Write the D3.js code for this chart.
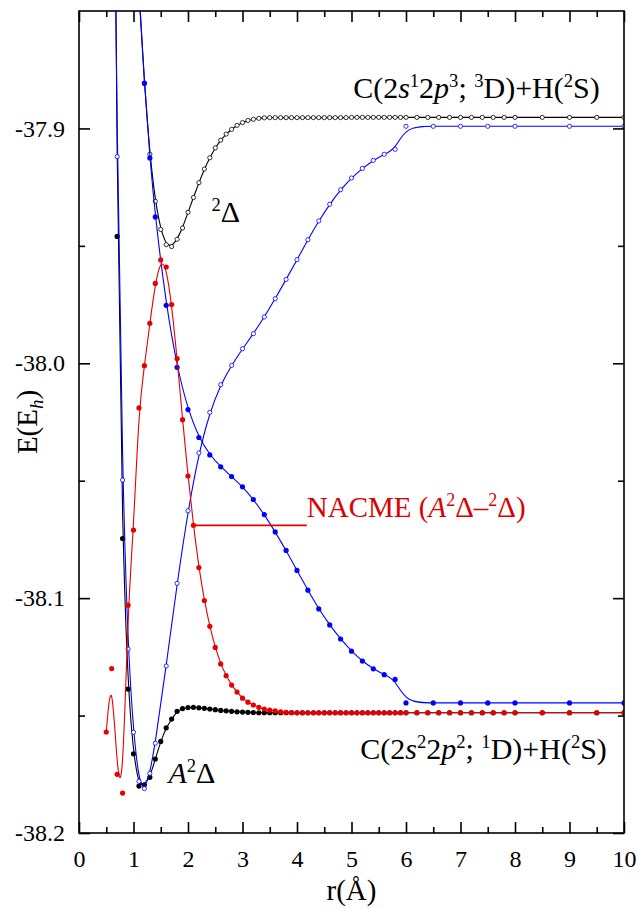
<!DOCTYPE html>
<html>
<head>
<meta charset="utf-8">
<script src="https://cdn.jsdelivr.net/npm/d3@7"></script>
<style>
  html, body { margin: 0; padding: 0; background: #fff; }
  svg { display: block; font-family: "Liberation Serif", "Times New Roman", serif; }
  text { white-space: pre; }
</style>
</head>
<body>
<div id="chart"></div>
<script>
// ---- data (r in Angstrom, E in hartree) ----
const xTicks = [0, 1, 2, 3, 4, 5, 6, 7, 8, 9, 10];
const xTickLabels = ["0", "1", "2", "3", "4", "5", "6", "7", "8", "9", "10"];
const xMinor = [0.5, 1.5, 2.5, 3.5, 4.5, 5.5, 6.5, 7.5, 8.5, 9.5];
const yTicks = [-38.2, -38.1, -38.0, -37.9];
const yTickLabels = ["-38.2", "-38.1", "-38.0", "-37.9"];
const yMinor = [-38.15, -38.05, -37.95];

// A2Delta (black, filled)
const blackFilledR = [0.6, 0.7, 0.8, 0.9, 1.0, 1.1, 1.2, 1.3, 1.4, 1.5,
  1.6, 1.7, 1.8, 1.9, 2.0, 2.1, 2.2, 2.3, 2.4, 2.5,
  2.6, 2.7, 2.8, 2.9, 3.0, 3.1, 3.2, 3.3, 3.4, 3.5,
  3.6, 3.7, 3.8, 3.9, 4.0, 4.1, 4.2, 4.3, 4.4, 4.5,
  4.6, 4.7, 4.8, 4.9, 5.0, 5.1, 5.2, 5.3, 5.4, 5.5,
  5.6, 5.7, 5.8, 5.9, 6.0, 6.2, 6.4, 6.6, 6.8, 7.0,
  7.2, 7.4, 7.6, 7.8, 8.0, 8.5, 9.0, 9.5, 10.0];
const blackFilledE = [-37.600, -37.946, -38.0746, -38.1387, -38.1663, -38.1800, -38.1795, -38.1763, -38.1685, -38.1610,
  -38.1552, -38.1515, -38.1482, -38.1470, -38.1466, -38.1465, -38.1467, -38.1469, -38.1472, -38.1475,
  -38.1478, -38.1480, -38.1482, -38.1484, -38.1485, -38.1486, -38.1487, -38.1488, -38.1488, -38.1488,
  -38.1488, -38.1488, -38.1488, -38.1488, -38.1488, -38.1488, -38.1488, -38.1488, -38.1488, -38.1488,
  -38.1488, -38.1488, -38.1488, -38.1488, -38.1488, -38.1488, -38.1488, -38.1488, -38.1488, -38.1488,
  -38.1488, -38.1488, -38.1488, -38.1488, -38.1488, -38.1488, -38.1488, -38.1488, -38.1488, -38.1488,
  -38.1488, -38.1488, -38.1488, -38.1488, -38.1488, -38.1488, -38.1488, -38.1488, -38.1488];

// 2Delta (black, open)
const blackOpenR = [1.1, 1.2, 1.3, 1.4, 1.5, 1.6, 1.7, 1.8, 1.9, 2.0,
  2.1, 2.2, 2.3, 2.4, 2.5, 2.6, 2.7, 2.8, 2.9, 3.0,
  3.1, 3.2, 3.3, 3.4, 3.5, 3.6, 3.7, 3.8, 3.9, 4.0,
  4.1, 4.2, 4.3, 4.4, 4.5, 4.6, 4.7, 4.8, 4.9, 5.0,
  5.1, 5.2, 5.3, 5.4, 5.5, 5.6, 5.7, 5.8, 5.9, 6.0,
  6.2, 6.4, 6.6, 6.8, 7.0, 7.2, 7.4, 7.6, 7.8, 8.0,
  8.5, 9.0, 9.5, 10.0];
const blackOpenE = [-37.842, -37.881, -37.911, -37.931, -37.943, -37.9495, -37.9503, -37.9472, -37.9424, -37.9357,
  -37.9294, -37.9231, -37.9173, -37.9125, -37.9083, -37.9050, -37.9024, -37.9004, -37.8987, -37.8975,
  -37.8966, -37.8961, -37.8957, -37.8955, -37.8954, -37.8954, -37.8954, -37.8954, -37.8954, -37.8954,
  -37.8954, -37.8954, -37.8954, -37.8954, -37.8954, -37.8954, -37.8954, -37.8954, -37.8954, -37.8953,
  -37.8953, -37.8953, -37.8953, -37.8953, -37.8953, -37.8953, -37.8953, -37.8953, -37.8953, -37.8953,
  -37.8953, -37.8953, -37.8953, -37.8953, -37.8953, -37.8953, -37.8953, -37.8953, -37.8953, -37.8953,
  -37.8953, -37.8953, -37.8953, -37.8953];

// diabatic curves (blue)
const blueOpenR = [0.6, 0.7, 0.8, 0.9, 1.0, 1.1, 1.2, 1.3, 1.4,
  1.6, 1.8, 2.0, 2.2, 2.4, 2.6, 2.8, 3.0, 3.2, 3.4, 3.6, 3.8, 4.0,
  4.2, 4.4, 4.6, 4.8, 5.0, 5.2, 5.4, 5.6, 5.8, 6.0,
  6.5, 7.0, 7.5, 8.0, 9.0, 10.0];
const blueOpenE = [-37.685, -37.912, -38.0497, -38.1217, -38.1571, -38.1780, -38.1811, -38.1746, -38.1618,
  -38.1289, -38.0937, -38.0628, -38.0382, -38.0209, -38.0091, -38.0009, -37.9938, -37.9874, -37.9803, -37.9725, -37.9643, -37.9559,
  -37.9474, -37.9394, -37.9323, -37.9261, -37.9211, -37.9170, -37.9136, -37.9110, -37.9089, -37.8991,
  -37.8991, -37.8991, -37.8991, -37.8991, -37.8991, -37.8991];

const blueFilledR = [1.1, 1.2, 1.3, 1.4,
  1.6, 1.8, 2.0, 2.2, 2.4, 2.6, 2.8, 3.0, 3.2, 3.4, 3.6, 3.8, 4.0,
  4.2, 4.4, 4.6, 4.8, 5.0, 5.2, 5.4, 5.6, 5.8, 6.0,
  6.5, 7.0, 7.5, 8.0, 9.0, 10.0];
const blueFilledE = [-37.840, -37.8807, -37.9126, -37.9377,
  -37.9753, -38.0017, -38.0197, -38.0316, -38.0390, -38.0441, -38.0482, -38.0526, -38.0580, -38.0644, -38.0718, -38.0797, -38.0882,
  -38.0966, -38.1046, -38.1114, -38.1174, -38.1226, -38.1268, -38.1301, -38.1326, -38.1346, -38.1446,
  -38.1446, -38.1446, -38.1446, -38.1446, -38.1446, -38.1446];

// NACME (red, filled)
const redR = [0.5, 0.6, 0.7, 0.8, 0.9, 1.0, 1.1, 1.2, 1.3, 1.4,
  1.5, 1.6, 1.7, 1.8, 1.9, 2.0, 2.1, 2.2, 2.3, 2.4,
  2.5, 2.6, 2.7, 2.8, 2.9, 3.0, 3.1, 3.2, 3.3, 3.4,
  3.5, 3.6, 3.7, 3.8, 3.9, 4.0, 4.1, 4.2, 4.3, 4.4,
  4.5, 4.6, 4.7, 4.8, 4.9, 5.0, 5.1, 5.2, 5.3, 5.4,
  5.5, 5.6, 5.7, 5.8, 5.9, 6.0, 6.2, 6.4, 6.6, 6.8,
  7.0, 7.2, 7.4, 7.6, 7.8, 8.0, 8.5, 9.0, 9.5, 10.0];
const redE = [-38.157, -38.130, -38.175, -38.183, -38.103, -38.071, -38.019, -38.001, -37.983, -37.966,
  -37.956, -37.959, -37.975, -37.998, -38.024, -38.048, -38.069, -38.087, -38.101, -38.112,
  -38.121, -38.128, -38.133, -38.137, -38.140, -38.1426, -38.1443, -38.1455, -38.1465, -38.1472,
  -38.1477, -38.1480, -38.1484, -38.1486, -38.1487, -38.1488, -38.1488, -38.1488, -38.1488, -38.1488,
  -38.1488, -38.1488, -38.1488, -38.1488, -38.1488, -38.1488, -38.1488, -38.1488, -38.1488, -38.1488,
  -38.1488, -38.1488, -38.1488, -38.1488, -38.1488, -38.1488, -38.1488, -38.1488, -38.1488, -38.1488,
  -38.1488, -38.1488, -38.1488, -38.1488, -38.1488, -38.1488, -38.1488, -38.1488, -38.1488, -38.1488];

const nacmeLeaderR = [2.1, 4.18];
const nacmeLeaderE = -38.069;

// ---- layout ----
const width = 638, height = 909;
const margin = {top: 11, right: 14, bottom: 76, left: 79};
const W = width - margin.left - margin.right;
const H = height - margin.top - margin.bottom;

const BLUE = "#0000ff", RED = "#e60000", BLACK = "#000";

const svg = d3.select("#chart").append("svg")
  .attr("width", width)
  .attr("height", height);

const g = svg.append("g")
  .attr("transform", `translate(${margin.left},${margin.top})`);

const x = d3.scaleLinear().domain([0, 10]).range([0, W]);
const y = d3.scaleLinear().domain([-38.2, -37.85]).range([H, 0]);

svg.append("defs").append("clipPath").attr("id", "plot-clip")
  .append("rect").attr("width", W).attr("height", H);

const pts = (rs, es) => rs.map((r, i) => ({r: r, e: es[i]})).filter(d => d.e !== undefined);

const line = d3.line()
  .x(d => x(d.r))
  .y(d => y(d.e))
  .curve(d3.curveBasis);

const plot = g.append("g").attr("clip-path", "url(#plot-clip)");

function drawSeries(data, color, open) {
  plot.append("path")
    .datum(data)
    .attr("d", line)
    .attr("fill", "none")
    .attr("stroke", color)
    .attr("stroke-width", 1.1);
  plot.append("g")
    .selectAll("circle")
    .data(data)
    .enter()
    .append("circle")
    .attr("cx", d => x(d.r))
    .attr("cy", d => y(d.e))
    .attr("r", open ? 2.1 : 2.6)
    .attr("fill", open ? "#fff" : color)
    .attr("stroke", open ? color : "none")
    .attr("stroke-width", 0.8);
}

drawSeries(pts(blackFilledR, blackFilledE), BLACK, false);
drawSeries(pts(blackOpenR, blackOpenE), BLACK, true);
drawSeries(pts(blueOpenR, blueOpenE), BLUE, true);
drawSeries(pts(blueFilledR, blueFilledE), BLUE, false);
drawSeries(pts(redR, redE), RED, false);

// leader line to the NACME label
g.append("line")
  .attr("x1", x(nacmeLeaderR[0]))
  .attr("x2", x(nacmeLeaderR[1]))
  .attr("y1", y(nacmeLeaderE))
  .attr("y2", y(nacmeLeaderE))
  .attr("stroke", RED)
  .attr("stroke-width", 1.6);

// ---- axes (ticks point inward on all four sides) ----
function styleAxis(sel) {
  sel.select(".domain").remove();
  sel.selectAll(".tick line").attr("stroke", "#000").attr("stroke-width", 1.6);
  sel.selectAll(".tick text")
    .attr("fill", "#000")
    .style("font-size", "24px")
    .style("font-family", "'Liberation Serif', 'Times New Roman', serif");
}

g.append("g").attr("transform", `translate(0,${H})`)
  .call(d3.axisBottom(x).tickValues(xTicks).tickFormat((d, i) => xTickLabels[i])
    .tickSizeInner(-11).tickSizeOuter(0).tickPadding(17))
  .call(styleAxis);
g.append("g").attr("transform", `translate(0,${H})`)
  .call(d3.axisBottom(x).tickValues(xMinor).tickFormat("").tickSizeInner(-6).tickSizeOuter(0))
  .call(styleAxis);
g.append("g")
  .call(d3.axisTop(x).tickValues(xTicks).tickFormat("").tickSizeInner(-11).tickSizeOuter(0))
  .call(styleAxis);
g.append("g")
  .call(d3.axisTop(x).tickValues(xMinor).tickFormat("").tickSizeInner(-6).tickSizeOuter(0))
  .call(styleAxis);

g.append("g")
  .call(d3.axisLeft(y).tickValues(yTicks).tickFormat((d, i) => yTickLabels[i])
    .tickSizeInner(-11).tickSizeOuter(0).tickPadding(14))
  .call(styleAxis);
g.append("g")
  .call(d3.axisLeft(y).tickValues(yMinor).tickFormat("").tickSizeInner(-6).tickSizeOuter(0))
  .call(styleAxis);
g.append("g").attr("transform", `translate(${W},0)`)
  .call(d3.axisRight(y).tickValues(yTicks).tickFormat("").tickSizeInner(-11).tickSizeOuter(0))
  .call(styleAxis);
g.append("g").attr("transform", `translate(${W},0)`)
  .call(d3.axisRight(y).tickValues(yMinor).tickFormat("").tickSizeInner(-6).tickSizeOuter(0))
  .call(styleAxis);

g.append("rect")
  .attr("width", W)
  .attr("height", H)
  .attr("fill", "none")
  .attr("stroke", "#000")
  .attr("stroke-width", 1.6);

// ---- text with super/subscripts ----
function richText(parent, parts, size) {
  const t = parent.append("text").attr("font-size", size);
  let shift = 0;
  parts.forEach(([str, kind]) => {
    let target = 0, fs = size;
    if (kind.includes("^")) { target = -size * 0.38; fs = size * 0.62; }
    if (kind.includes("_")) { target = size * 0.2; fs = size * 0.65; }
    t.append("tspan")
      .attr("dy", target - shift)
      .attr("font-size", fs)
      .attr("font-style", kind.includes("i") ? "italic" : "normal")
      .text(str);
    shift = target;
  });
  return t;
}

richText(g, [["C(2", ""], ["s", "i"], ["1", "^"], ["2", ""], ["p", "i"], ["3", "^"], ["; ", ""],
  ["3", "^"], ["D)+H(", ""], ["2", "^"], ["S)", ""]], 30)
  .attr("x", x(5.03)).attr("y", y(-37.8872));

richText(g, [["C(2", ""], ["s", "i"], ["2", "^"], ["2", ""], ["p", "i"], ["2", "^"], ["; ", ""],
  ["1", "^"], ["D)+H(", ""], ["2", "^"], ["S)", ""]], 30)
  .attr("x", x(5.16)).attr("y", y(-38.1685));

richText(g, [["2", "^"], ["Δ", ""]], 30)
  .attr("x", x(2.43)).attr("y", y(-37.94));

richText(g, [["A", "i"], ["2", "^"], ["Δ", ""]], 30)
  .attr("x", x(1.64)).attr("y", y(-38.1789));

richText(g, [["NACME (", ""], ["A", "i"], ["2", "^"], ["Δ–", ""], ["2", "^"], ["Δ)", ""]], 29)
  .attr("x", x(4.18)).attr("y", y(-38.0655))
  .attr("fill", "#dd0000");

// axis titles
svg.append("text")
  .attr("x", margin.left + W / 2)
  .attr("y", 900)
  .attr("text-anchor", "middle")
  .attr("font-size", 29)
  .text("r(Å)");

richText(svg, [["E(E", ""], ["h", "i_"], [")", ""]], 29)
  .attr("text-anchor", "middle")
  .attr("transform", `translate(37,${margin.top + H / 2}) rotate(-90)`);
</script>
</body>
</html>
